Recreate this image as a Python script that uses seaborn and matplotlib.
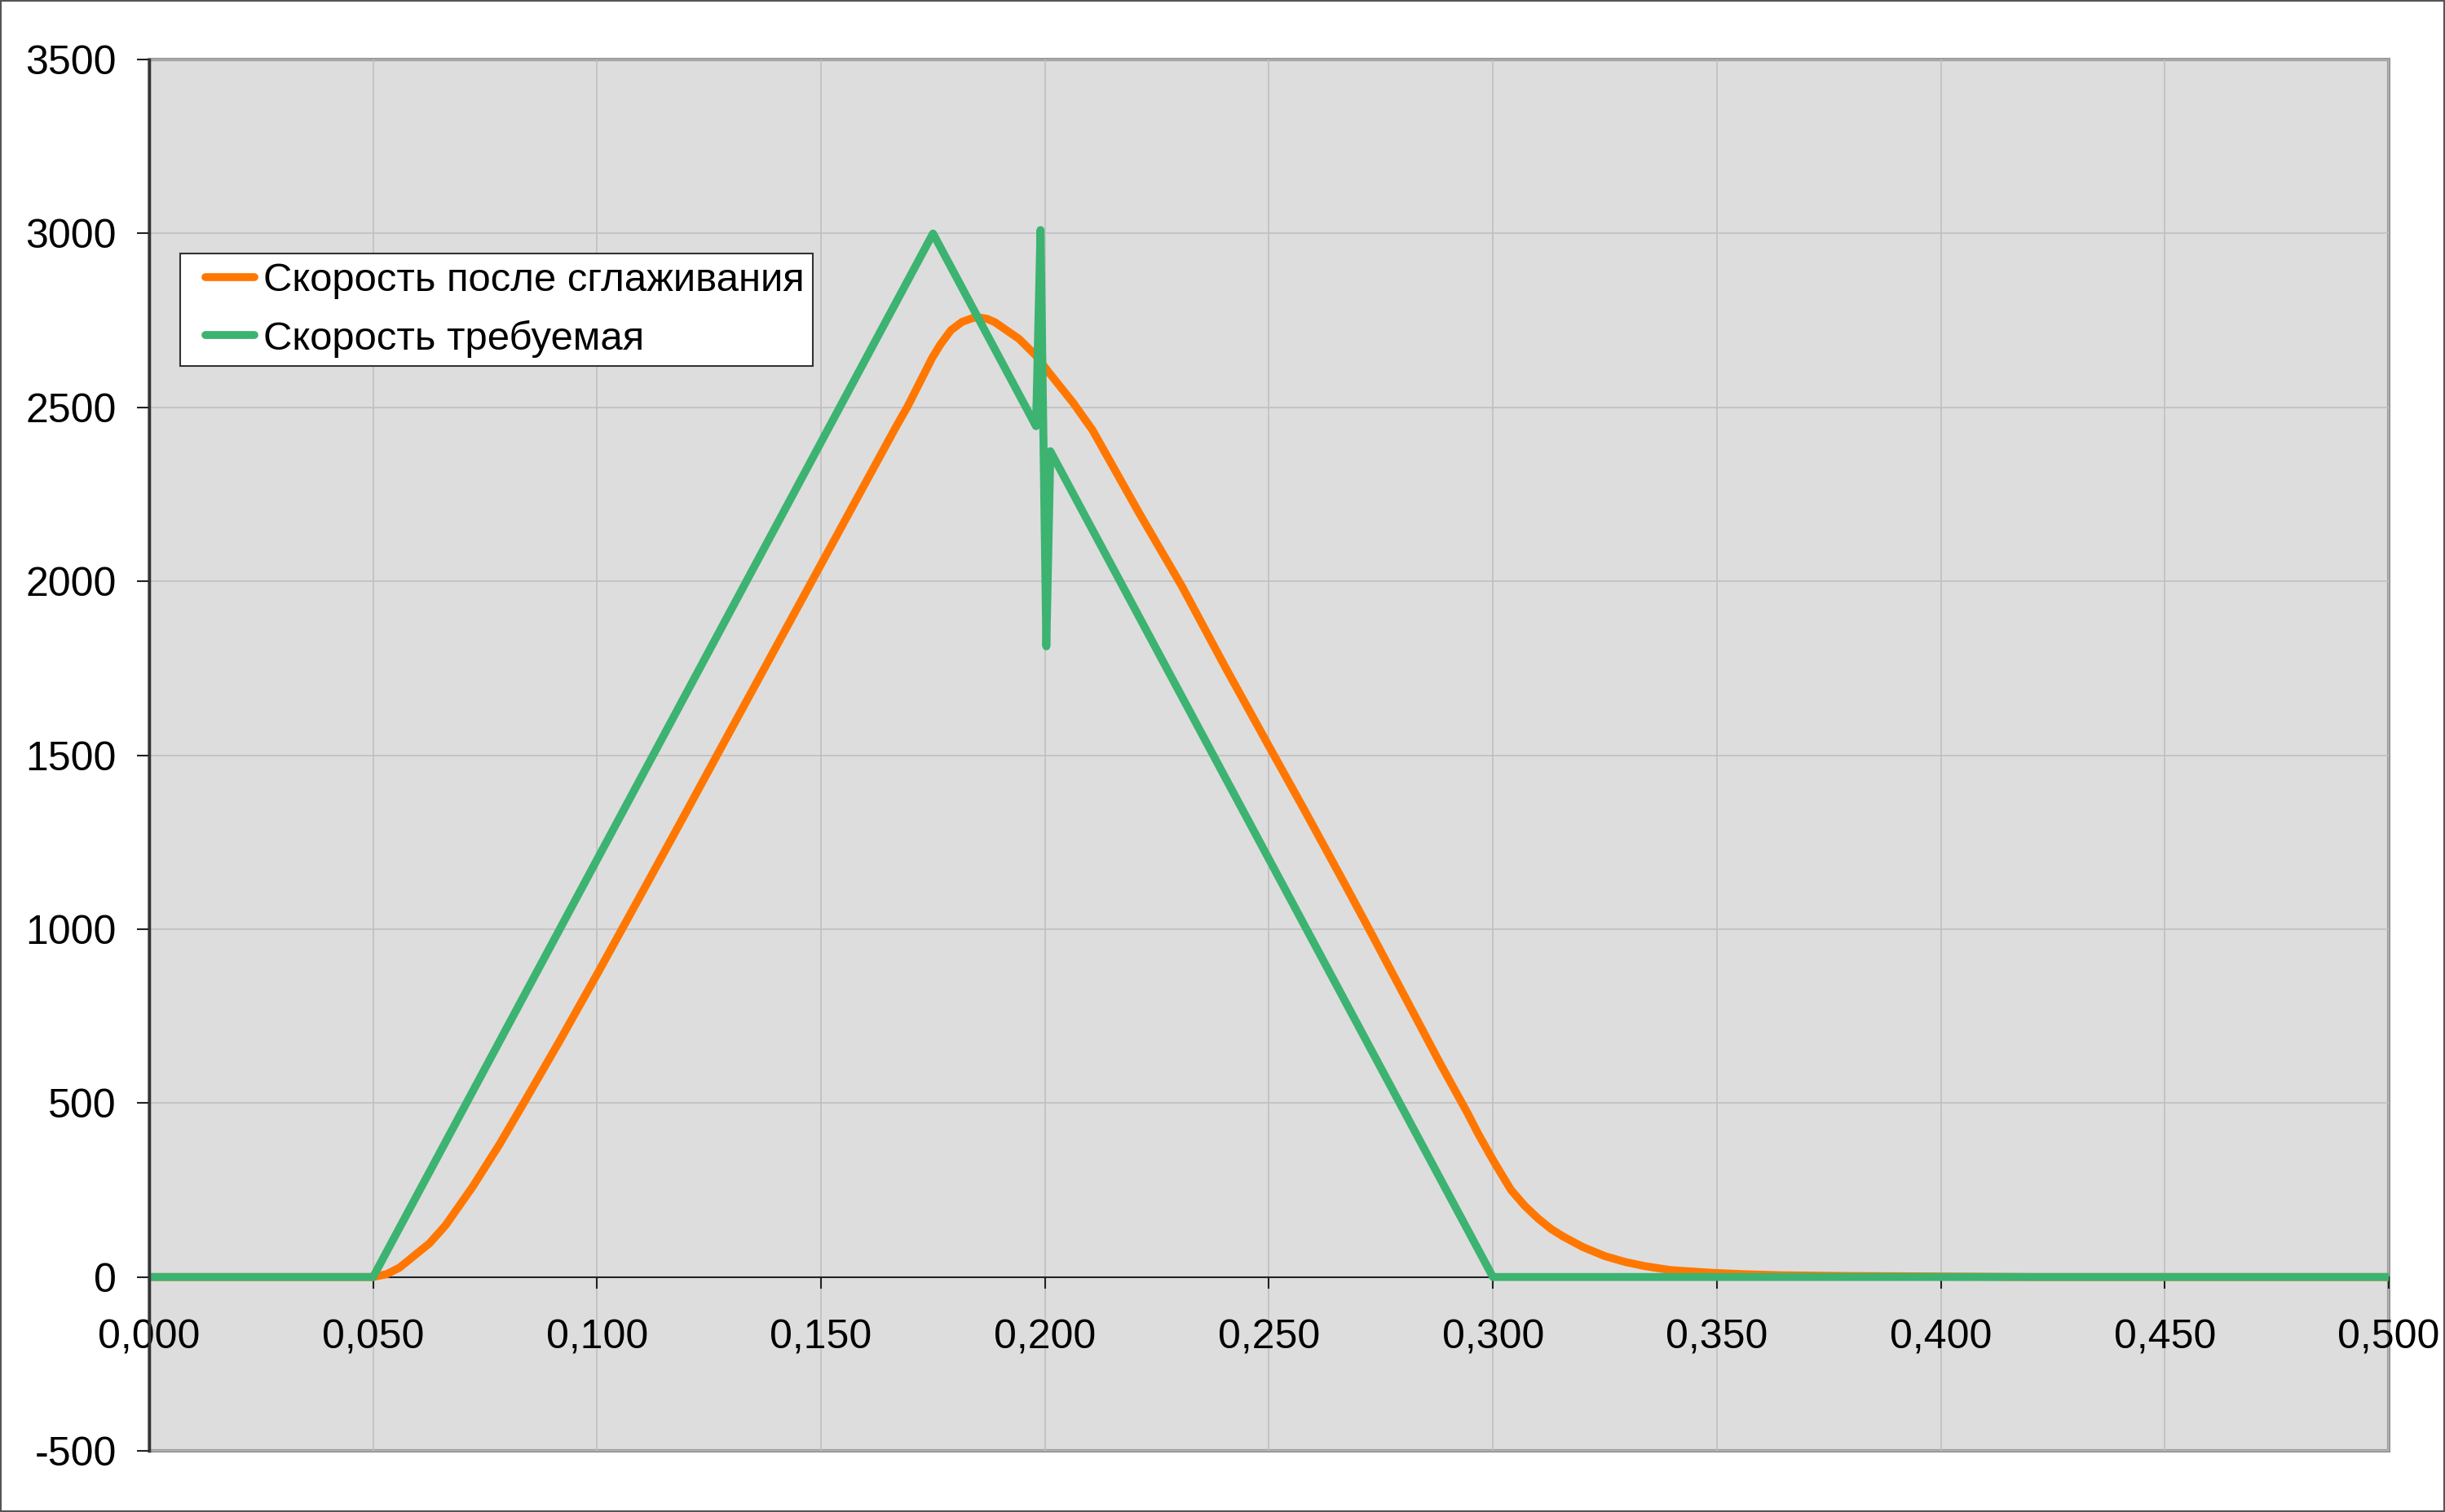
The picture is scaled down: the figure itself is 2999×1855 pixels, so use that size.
import numpy as np
import pandas as pd
import seaborn as sns
import matplotlib.pyplot as plt
from matplotlib.patches import Rectangle
from matplotlib.lines import Line2D
from matplotlib.legend_handler import HandlerLine2D
from matplotlib.ticker import FuncFormatter

# Values
t_required = [0.000, 0.050, 0.175, 0.198, 0.199, 0.2003, 0.2012, 0.300, 0.500]
v_required = [0, 0, 3000, 2446, 3010, 1813, 2374, 0, 0]

t_smooth = [0.000, 0.050, 0.0530, 0.0559, 0.0626, 0.0662, 0.0723, 0.0783, 0.0838,
            0.0917, 0.1002, 0.1062, 0.1111, 0.1196, 0.1269, 0.1487, 0.1669, 0.1693,
            0.1748, 0.1766, 0.1790, 0.1815, 0.1839, 0.1851, 0.1870, 0.1888, 0.1942,
            0.1979, 0.2009, 0.2063, 0.2106, 0.2209, 0.2306, 0.2403, 0.2506, 0.2579,
            0.2670, 0.2731, 0.2883, 0.2943, 0.2967, 0.3002, 0.3040, 0.3070, 0.3101,
            0.3130, 0.3156, 0.3201, 0.3250, 0.3296, 0.3340, 0.3396, 0.3489, 0.3560,
            0.3643, 0.3780, 0.3925, 0.4200, 0.5000]
v_smooth = [0, 0, 8, 27, 97, 149, 261, 383, 504,
            680, 875, 1015, 1130, 1330, 1503, 2018, 2448, 2502,
            2642, 2680, 2722, 2746, 2757, 2759, 2755, 2745, 2697,
            2650, 2600, 2513, 2435, 2199, 1985, 1752, 1512, 1343,
            1128, 982, 612, 472, 412, 332, 251, 206, 168,
            138, 117, 86, 60, 43, 31, 20, 12, 8,
            5, 3, 2, 0, 0]

x_ticks = [0.0, 0.05, 0.1, 0.15, 0.2, 0.25, 0.3, 0.35, 0.4, 0.45, 0.5]
y_ticks = [-500, 0, 500, 1000, 1500, 2000, 2500, 3000, 3500]

label_smooth = 'Скорость после сглаживания'
label_required = 'Скорость требуемая'

sns.set_style('white')
plt.rcParams['font.family'] = ['Liberation Sans', 'DejaVu Sans']
plt.rcParams['axes.unicode_minus'] = False
plt.rcParams['text.color'] = 'black'

df_smooth = pd.DataFrame({'t': t_smooth, 'v': v_smooth})
df_required = pd.DataFrame({'t': t_required, 'v': v_required})

fig = plt.figure(figsize=(29.99, 18.55), dpi=100)
ax = fig.add_axes([0.0610, 0.0404, 0.9160, 0.9202])
ax.set_facecolor('#DDDDDD')

line_kw = dict(lw=7, solid_joinstyle='round', solid_capstyle='round', estimator=None, sort=False)
sns.lineplot(data=df_smooth, x='t', y='v', ax=ax, color='#FF7700', label=label_smooth, **line_kw)
sns.lineplot(data=df_required, x='t', y='v', ax=ax, color='#3CB371', label=label_required, **line_kw)

ax.set_xlim(0, 0.5)
ax.set_ylim(-500, 3500)
ax.set_xticks(x_ticks)
ax.set_yticks(y_ticks)
ax.xaxis.set_major_formatter(FuncFormatter(lambda v, p: f'{v:.3f}'.replace('.', ',')))
ax.set_xlabel('')
ax.set_ylabel('')
ax.grid(True, color='#C0C0C0', lw=1.2)
ax.set_axisbelow(True)

for s in ['top', 'right']:
    ax.spines[s].set_visible(False)
ax.spines['bottom'].set_position(('data', 0))
ax.spines['bottom'].set_color('#222222')
ax.spines['bottom'].set_linewidth(1.5)
ax.spines['bottom'].set_zorder(1.5)
ax.spines['left'].set_color('#333333')
ax.spines['left'].set_linewidth(2.5)

ax.tick_params(axis='x', direction='out', length=10, width=1.5, color='#222222',
               labelsize=36, labelcolor='black', pad=27, bottom=True)
ax.tick_params(axis='y', direction='out', length=11, width=1.5, color='#222222',
               labelsize=36, labelcolor='black', pad=18, left=True)

# plot-area border
ax.add_patch(Rectangle((0, 0), 1, 1, transform=ax.transAxes, fill=False,
                       edgecolor='#999999', lw=3, clip_on=False, zorder=0.5))

leg = ax.legend(loc='upper left', bbox_to_anchor=(0.0138, 0.8606), borderaxespad=0,
                fontsize=35.3, frameon=True, fancybox=False, framealpha=1,
                edgecolor='#333333', handlelength=1.64, handletextpad=0.22,
                labelspacing=0.52, borderpad=0.22,
                handler_map={Line2D: HandlerLine2D(xpad=0.42)})
leg.get_frame().set_linewidth(1.5)
for h in leg.get_lines():
    h.set_linewidth(7)
    h.set_solid_capstyle('round')
for txt in leg.get_texts():
    txt.set_color('black')

# figure border
fig.patches.append(Rectangle((1 / 2999, 1 / 1855), 1 - 2 / 2999, 1 - 2 / 1855,
                             transform=fig.transFigure, fill=False,
                             edgecolor='#555555', lw=1.5))

fig.savefig('out.png', dpi=100, facecolor='white')
